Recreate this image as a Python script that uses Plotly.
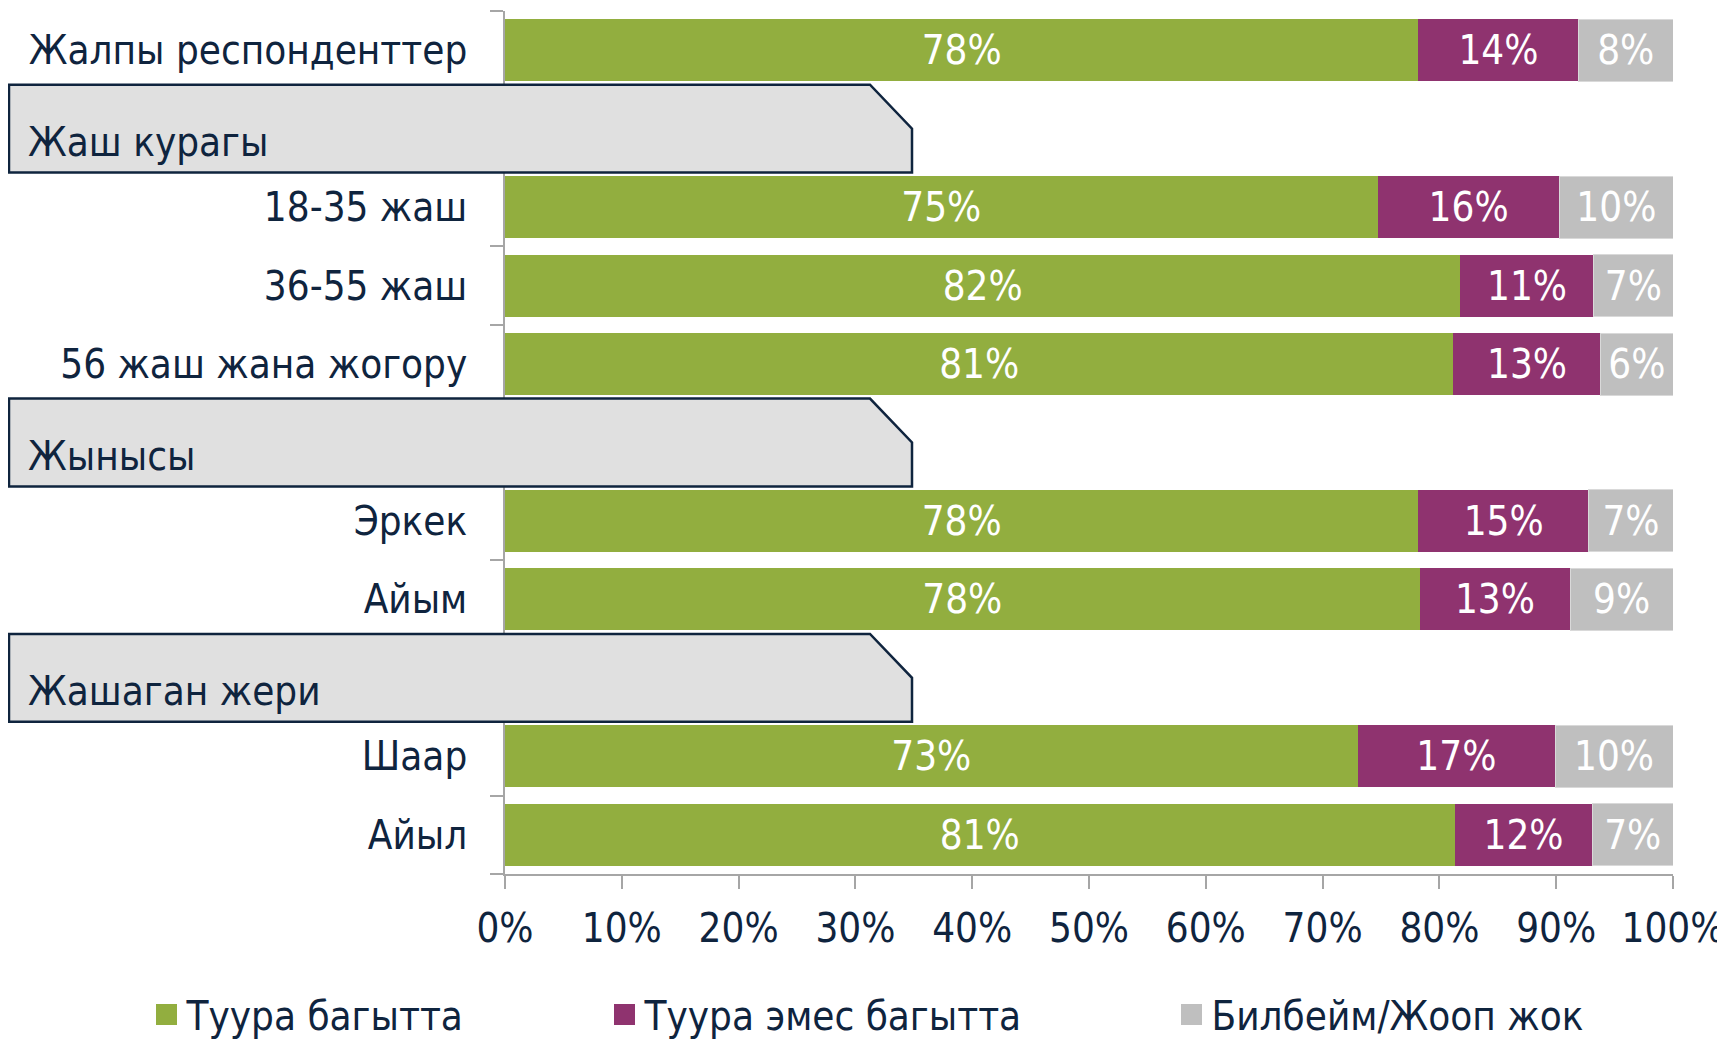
import plotly.graph_objects as go

# ---- data ----
categories = ["Жалпы респонденттер", "Жаш курагы", "18-35 жаш", "36-55 жаш",
              "56 жаш жана жогору", "Жынысы", "Эркек", "Айым", "Жашаган жери",
              "Шаар", "Айыл"]
group_headers = ["Жаш курагы", "Жынысы", "Жашаган жери"]
series_names = ["Туура багытта", "Туура эмес багытта", "Билбейм/Жооп жок"]
correct_dir = [78.2, None, 74.7, 81.8, 81.2, None, 78.2, 78.3, None, 73.0, 81.3]
wrong_dir = [13.7, None, 15.6, 11.4, 12.6, None, 14.6, 12.9, None, 16.9, 11.8]
dont_know = [8.1, None, 9.7, 6.8, 6.2, None, 7.2, 8.8, None, 10.1, 6.9]
x_ticks = [0, 10, 20, 30, 40, 50, 60, 70, 80, 90, 100]

# ---- layout constants (screen pixels; page body has an 8px margin) ----
OFF = 8
W, H = 1725 - OFF, 1039 - OFF
PLOT_L, PLOT_R, PLOT_T, PLOT_B = 505, 1673, 11, 874.5   # screen coords
ML = PLOT_L - OFF
MT = PLOT_T - OFF
MR = (W + OFF) - PLOT_R
MB = (H + OFF) - PLOT_B
PW = PLOT_R - PLOT_L
PH = PLOT_B - PLOT_T
NAVY = "#0F243E"
AXIS = "#A6A6A6"
colors = ["#92AE3F", "#8F336F", "#BFBFBF"]
LABEL_FONT = "DejaVu Sans Condensed, DejaVu Sans, sans-serif"
NUM_FONT = "DejaVu Sans Condensed, DejaVu Sans, sans-serif"
NUM_SIZE = 40
LABEL_SIZE = 40


def px_to_paper_x(px):
    return (px - PLOT_L) / PW


def px_to_paper_y(py):
    return (PLOT_B - py) / PH


fig = go.Figure()
for name, vals, col in zip(series_names, [correct_dir, wrong_dir, dont_know], colors):
    fig.add_trace(go.Bar(
        y=categories, x=vals, name=name, orientation="h",
        marker=dict(color=col, line=dict(width=1 if col == "#BFBFBF" else 0, color="#D9D9D9")),
        texttemplate="%{x:.0f}%", textposition="inside", insidetextanchor="middle",
        textfont=dict(color="white", size=NUM_SIZE, family=NUM_FONT),
        showlegend=False, hoverinfo="skip",
    ))

# legend entries (square swatches like the original)
legend_ids = ["legend", "legend2", "legend3"]
for name, col, lg in zip(series_names, colors, legend_ids):
    fig.add_trace(go.Scatter(
        x=[None], y=[None], mode="markers", name=name, legend=lg,
        marker=dict(symbol="square", size=16, color=col, line=dict(width=5, color=col)),
        hoverinfo="skip",
    ))

ticktext = ["" if c in group_headers else c for c in categories]

# header boxes (decorative, positioned by category index)
shapes = []
annotations = []
half = 0.56
xl, xc, xr = px_to_paper_x(9), px_to_paper_x(870), px_to_paper_x(912)
for hdr in group_headers:
    i = categories.index(hdr)
    top, bot = i - half, i + half
    path = (f"M {xl},{top} L {xc},{top} L {xr},{i} L {xr},{bot} "
            f"L {xl},{bot} Z")
    shapes.append(dict(type="path", path=path, xref="paper", yref="y",
                       fillcolor="#E0E0E0", line=dict(color=NAVY, width=2.5),
                       layer="above"))
    annotations.append(dict(text=hdr, x=px_to_paper_x(26), y=hdr, xref="paper", yref="y",
                            xanchor="left", yanchor="middle", yshift=-13, showarrow=False,
                            font=dict(family=LABEL_FONT, size=LABEL_SIZE, color=NAVY)))

legend_common = dict(orientation="h", yanchor="middle", xanchor="left",
                     y=px_to_paper_y(1015), bgcolor="rgba(0,0,0,0)",
                     font=dict(family=LABEL_FONT, size=LABEL_SIZE, color=NAVY))

fig.update_layout(
    width=W, height=H,
    margin=dict(l=ML, r=MR, t=MT, b=MB, autoexpand=False),
    paper_bgcolor="white", plot_bgcolor="white",
    barmode="stack", bargap=0.21,
    showlegend=True,
    legend=dict(x=px_to_paper_x(146.5), **legend_common),
    legend2=dict(x=px_to_paper_x(604.5), **legend_common),
    legend3=dict(x=px_to_paper_x(1171.5), **legend_common),
    uniformtext=dict(minsize=NUM_SIZE, mode="show"),
    xaxis=dict(range=[0, 100], tickmode="array", tickvals=x_ticks,
               ticktext=[f"{t}%" for t in x_ticks], showgrid=False, zeroline=False,
               showline=True, linecolor=AXIS, linewidth=1.5,
               ticks="outside", ticklen=13, tickcolor=AXIS, tickwidth=1.5,
               tickfont=dict(family=NUM_FONT, size=NUM_SIZE, color=NAVY),
               ticklabelstandoff=5),
    yaxis=dict(type="category", categoryorder="array", categoryarray=categories,
               autorange="reversed", tickmode="array", tickvals=categories, ticktext=ticktext,
               showgrid=False, zeroline=False, showline=True, linecolor=AXIS, linewidth=1.5,
               ticks="outside", tickson="boundaries", ticklen=13, tickcolor=AXIS, tickwidth=1.5,
               tickfont=dict(family=LABEL_FONT, size=LABEL_SIZE, color=NAVY),
               ticklabelstandoff=28),
    shapes=shapes, annotations=annotations,
)

fig.write_html("out.html")
